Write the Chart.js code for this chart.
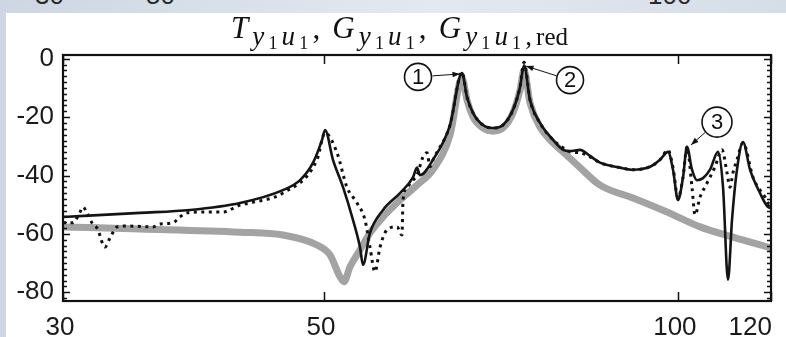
<!DOCTYPE html>
<html lang="en">
<head>
<meta charset="UTF-8">
<title>Frequency responses</title>
<script src="https://cdn.jsdelivr.net/npm/chart.js@4.4.1/dist/chart.umd.min.js"></script>
<style>
  body { margin: 0; width: 786px; height: 337px; overflow: hidden; position: relative;
         background: linear-gradient(90deg, #cdd6e2, #e3e9f0 55%, #d5dde7); }
  #sheet { position: absolute; left: 6px; top: 13px; right: 0; bottom: 0; background: #fff; }
  .cut { position: absolute; top: -20px; font: 26px "Liberation Sans", Arial, sans-serif; color: #2a2a2a; }
  #wrap { position: absolute; left: 0; top: 0; width: 786px; height: 337px; }
</style>
</head>
<body>
<!-- bottoms of the labels of the figure above, cut by the crop -->
<div class="cut" style="left:35px">30</div>
<div class="cut" style="left:146px">50</div>
<div class="cut" style="left:648px">100</div>
<div id="sheet"></div>
<div id="wrap"><canvas id="myChart" width="786" height="337"></canvas></div>

<script>
// T_y1u1 (solid black)
const tFreq = [30.0, 34.88, 38.47, 42.43, 46.15, 47.72, 48.95, 49.82, 50.11, 50.90, 51.91, 52.93, 53.66, 53.98,
  54.72, 56.14, 58.04, 59.53, 60.00, 60.35, 61.91, 64.01, 65.53, 66.17, 66.95, 68.28, 69.63, 71.00, 72.41,
  73.41, 73.99, 74.86, 76.34, 78.31, 79.86, 80.96, 82.56, 84.19, 85.86, 89.28, 91.59, 94.69, 96.56, 98.08,
  99.05, 100.02, 101.01, 101.80, 102.80, 103.81, 105.04, 106.49, 108.17, 109.24, 110.31, 111.18, 112.27,
  113.60, 115.17, 117.44, 119.30, 120.0];
const tMag = [-54.2, -52.8, -51.8, -49.4, -45.0, -41.6, -35.6, -27.8, -24.4, -34.6, -44.0, -55.2, -64.5, -70.6,
  -59.7, -51.8, -46.0, -40.6, -37.3, -39.9, -34.6, -22.7, -4.9, -13.1, -18.5, -22.7, -23.7, -22.7, -17.5,
  -9.7, -2.2, -14.1, -22.0, -27.8, -31.2, -31.6, -31.2, -33.3, -35.6, -37.3, -38.0, -37.0, -34.6, -31.9,
  -38.0, -48.4, -40.6, -30.2, -38.0, -41.6, -40.9, -38.0, -31.9, -44.0, -75.7, -55.2, -38.0,
  -28.5, -38.0, -46.0, -50.8, -51.1];

// G_y1u1 (dotted black)
const gFreq = [30.0, 30.59, 31.02, 31.20, 31.44, 31.75, 32.13, 32.38, 32.57, 32.89, 33.35, 34.00, 35.78, 36.27,
  37.21, 37.72, 38.24, 39.77, 41.04, 42.43, 43.27, 46.15, 49.33, 50.11, 51.30, 52.31, 53.35, 54.19, 54.72,
  55.26, 55.81, 56.58, 57.70, 58.26, 58.38, 58.84, 59.53, 60.00, 60.71, 61.19, 61.55, 61.91, 64.01, 65.53,
  66.17, 66.95, 68.28, 69.63, 71.00, 72.41, 73.41, 73.99, 74.86, 76.34, 78.31, 79.86, 80.96, 82.56, 84.19,
  85.86, 89.28, 91.59, 94.69, 96.56, 98.08, 99.05, 100.02, 101.01, 101.80, 102.80, 103.41, 104.43, 105.87,
  107.54, 109.02, 110.09, 110.74, 111.40, 112.27, 113.60, 115.84, 117.44, 118.60, 119.30, 120.0];
const gMag = [-56.2, -56.2, -52.5, -50.8, -52.8, -56.2, -58.6, -62.8, -64.5, -61.4, -57.6, -57.3, -57.6, -56.6,
  -56.2, -54.2, -52.8, -52.5, -52.5, -50.1, -49.4, -46.0, -34.6, -25.4, -32.2, -44.0, -49.4, -55.2, -64.5,
  -73.0, -64.5, -58.6, -57.6, -60.4, -48.4, -44.0, -41.6, -39.9, -33.6, -32.2, -37.0, -34.6, -22.7, -4.6,
  -13.1, -18.5, -22.7, -23.7, -22.7, -17.5, -9.7, -1.2, -14.1, -22.0, -27.8, -30.5, -31.9, -32.2, -33.6,
  -35.6, -37.3, -38.0, -37.0, -34.6, -31.2, -37.3, -47.7, -40.6, -30.2, -44.0, -53.5, -47.4, -42.6,
  -37.0, -31.2, -39.0, -44.0, -39.0, -34.6, -28.8, -40.6, -45.0, -47.4, -49.4, -50.1];

// G_y1u1,red (thick grey)
const rFreq = [30.0, 34.88, 42.43, 46.15, 49.33, 50.60, 51.60, 52.01, 52.62, 53.66, 54.72, 56.14, 58.04, 60.00,
  61.91, 64.01, 65.53, 66.17, 66.95, 68.28, 69.63, 71.00, 72.41, 73.41, 73.99, 74.86, 76.34, 78.31, 79.86,
  82.56, 85.86, 91.59, 97.89, 104.43, 111.40, 120.0];
const rMag = [-57.6, -58.3, -59.4, -60.4, -63.8, -67.2, -74.7, -76.4, -71.3, -65.5, -59.7, -54.2, -48.4, -43.3,
  -38.0, -26.1, -6.6, -14.1, -19.9, -23.7, -24.8, -23.7, -18.5, -10.7, -3.9, -15.1, -23.4, -28.8, -31.9,
  -37.3, -43.3, -47.7, -52.5, -57.6, -61.1, -64.8];

const xTicks = [30, 50, 100, 120];
const yTicks = [-80, -60, -40, -20, 0];

// circled markers: label, circle centre, arrow tip (data coordinates)
const markLabels = ['1', '2', '3'];
const markCenter = [[60.12, -6.2], [80.96, -7.3], [107.96, -21.7]];
const markTip = [[65.27, -5.2], [74.27, -2.5], [102.6, -29.5]];

function pts(xs, ys) {
  return xs.map((f, i) => ({ x: f, y: ys[i] }));
}

const sans = '"Liberation Sans", Arial, sans-serif';
const serif = '"Liberation Serif", "Times New Roman", serif';

// title T_{y1u1}, G_{y1u1}, G_{y1u1,red} with sub/subsub scripts,
// spread out to the width the LaTeX original takes
function drawTitle(ctx, left, right, base) {
  const M = 31, S = 27, SS = 18;
  const parts = [];
  function sym(letter) {
    parts.push({ t: letter, it: true, s: M, dy: 0 });
  }
  function idx(extra) {
    parts.push({ t: 'y', it: true, s: S, dy: 7 });
    parts.push({ t: '1', it: false, s: SS, dy: 11 });
    parts.push({ t: 'u', it: true, s: S, dy: 7 });
    parts.push({ t: '1', it: false, s: SS, dy: 11 });
    if (extra) {
      parts.push({ t: ',', it: false, s: S, dy: 7 });
      parts.push({ t: 'red', it: false, s: S - 2, dy: 7 });
    }
  }
  sym('T'); idx(); parts.push({ t: ',', it: false, s: M, dy: 0, sp: 8 });
  sym('G'); idx(); parts.push({ t: ',', it: false, s: M, dy: 0, sp: 8 });
  sym('G'); idx(true);
  let w = 0;
  parts.forEach(p => {
    ctx.font = (p.it ? 'italic ' : '') + p.s + 'px ' + serif;
    p.w = ctx.measureText(p.t).width + (p.sp || 0);
    w += p.w;
  });
  const gap = Math.max(0, (right - left - w) / (parts.length - 1));
  let x = (left + right) / 2 - (w + gap * (parts.length - 1)) / 2;
  ctx.fillStyle = '#111';
  ctx.textAlign = 'left';
  ctx.textBaseline = 'alphabetic';
  parts.forEach(p => {
    ctx.font = (p.it ? 'italic ' : '') + p.s + 'px ' + serif;
    ctx.fillText(p.t, x, base + p.dy);
    x += p.w + gap;
  });
}

const decor = {
  id: 'decor',
  afterDatasetsDraw(chart) {
    const { ctx, chartArea: a, scales: { x, y } } = chart;
    ctx.save();
    ctx.strokeStyle = '#111';

    // inward tick marks, MATLAB style
    ctx.lineWidth = 1.5;
    ctx.beginPath();
    for (let v = -82; v <= 0; v += 2) {
      const py = Math.round(y.getPixelForValue(v)) + 0.5;
      const len = v % 20 === 0 ? 7 : 4;
      ctx.moveTo(a.left, py); ctx.lineTo(a.left + len, py);
      ctx.moveTo(a.right, py); ctx.lineTo(a.right - len, py);
    }
    xTicks.forEach(f => {
      const px = Math.round(x.getPixelForValue(f)) + 0.5;
      ctx.moveTo(px, a.bottom); ctx.lineTo(px, a.bottom - 9);
      ctx.moveTo(px, a.top); ctx.lineTo(px, a.top + 9);
    });
    ctx.stroke();

    // box
    ctx.lineWidth = 2.2;
    ctx.strokeRect(a.left, a.top, a.right - a.left, a.bottom - a.top);

    // x labels
    ctx.fillStyle = '#1a1a1a';
    ctx.font = '26px ' + sans;
    ctx.textBaseline = 'alphabetic';
    xTicks.forEach((f, i) => {
      const px = x.getPixelForValue(f);
      if (i === xTicks.length - 1) {
        ctx.textAlign = 'right';
        ctx.fillText(String(f), px + 1, 335);
      } else {
        ctx.textAlign = 'center';
        ctx.fillText(String(f), px - 3, 335);
      }
    });

    // circled numbers with arrows
    markLabels.forEach((lab, i) => {
      const cx = x.getPixelForValue(markCenter[i][0]);
      const cy = y.getPixelForValue(markCenter[i][1]);
      const tx = x.getPixelForValue(markTip[i][0]);
      const ty = y.getPixelForValue(markTip[i][1]);
      const r = i === 2 ? 15 : 13.5;
      ctx.fillStyle = '#fff';
      ctx.lineWidth = 1.6;
      ctx.beginPath();
      ctx.arc(cx, cy, r, 0, Math.PI * 2);
      ctx.fill();
      ctx.stroke();
      ctx.fillStyle = '#111';
      ctx.font = '22px ' + sans;
      ctx.textAlign = 'center';
      ctx.textBaseline = 'middle';
      ctx.fillText(lab, cx, cy + 1);
      const ang = Math.atan2(ty - cy, tx - cx);
      const sx = cx + Math.cos(ang) * (r + 1);
      const sy = cy + Math.sin(ang) * (r + 1);
      ctx.lineWidth = 1;
      ctx.beginPath();
      ctx.moveTo(sx, sy);
      ctx.lineTo(tx, ty);
      ctx.stroke();
      const h = 8;
      ctx.beginPath();
      ctx.moveTo(tx, ty);
      ctx.lineTo(tx - h * Math.cos(ang - 0.35), ty - h * Math.sin(ang - 0.35));
      ctx.lineTo(tx - h * Math.cos(ang + 0.35), ty - h * Math.sin(ang + 0.35));
      ctx.closePath();
      ctx.fill();
    });

    drawTitle(ctx, 231, 568, 38);
    ctx.restore();
  }
};

const chart = new Chart(document.getElementById('myChart'), {
  type: 'line',
  data: {
    datasets: [
      {
        label: 'T_y1u1',
        data: pts(tFreq, tMag),
        borderColor: '#141414',
        borderWidth: 2.6,
        cubicInterpolationMode: 'monotone',
        order: 1
      },
      {
        label: 'G_y1u1',
        data: pts(gFreq, gMag),
        borderColor: '#111',
        borderWidth: 3,
        borderDash: [3, 4.5],
        cubicInterpolationMode: 'monotone',
        order: 2
      },
      {
        label: 'G_y1u1,red',
        data: pts(rFreq, rMag),
        borderColor: '#a3a3a3',
        borderWidth: 7,
        cubicInterpolationMode: 'monotone',
        order: 3
      }
    ]
  },
  options: {
    responsive: false,
    animation: false,
    layout: { padding: { top: 55, bottom: 36, left: 0, right: 15 } },
    elements: { point: { radius: 0 } },
    plugins: {
      legend: { display: false },
      tooltip: { enabled: false },
      title: { display: false }
    },
    scales: {
      x: {
        type: 'logarithmic',
        min: 30,
        max: 120,
        ticks: { display: false },
        grid: { display: false, drawTicks: false },
        border: { display: false },
        afterFit: s => { s.height = 0; }
      },
      y: {
        min: -83,
        max: 1.3,
        afterBuildTicks: s => { s.ticks = yTicks.map(v => ({ value: v })); },
        afterFit: s => { s.width = 63; },
        ticks: { font: { family: sans, size: 26 }, color: '#1a1a1a', padding: 9 },
        grid: { display: false, drawTicks: false },
        border: { display: false }
      }
    }
  },
  plugins: [decor]
});
</script>
</body>
</html>
